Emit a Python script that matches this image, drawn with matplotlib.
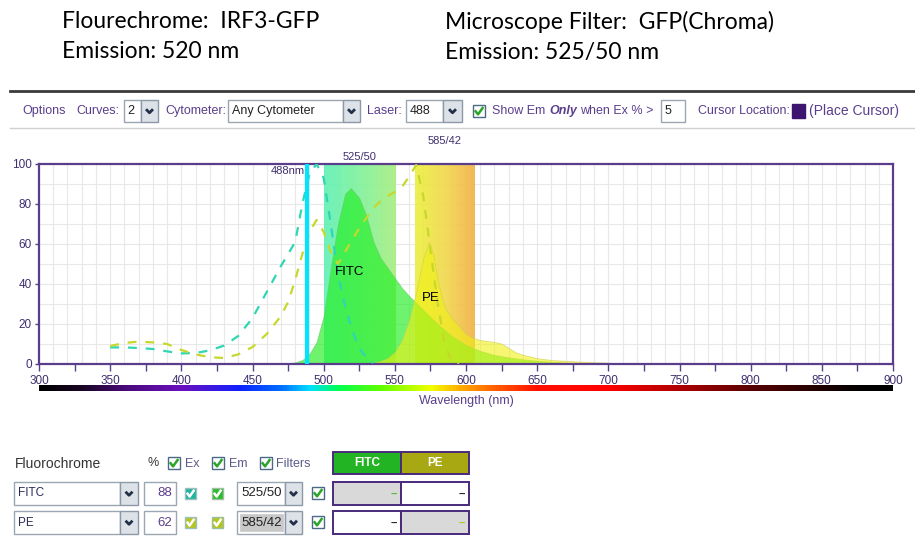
import numpy as np
import matplotlib
matplotlib.use("Agg")
import matplotlib.pyplot as plt
from matplotlib.patches import Rectangle
from matplotlib.colors import LinearSegmentedColormap

# spectra (wavelength in nm, value in % of max)
fitc_ex_nm = [350, 360, 370, 380, 390, 400, 410, 420, 430, 440, 450, 460, 470, 475, 480,
              485, 490, 495, 500, 505, 510, 515, 520, 525, 530, 535]
fitc_ex = [8.3, 8.3, 8.0, 7.5, 6.3, 5.3, 5.5, 6.8, 9.2, 14, 23, 36, 49, 55, 61,
           80, 95, 100, 93, 70, 45, 29, 17, 8, 3, 0.5]

pe_ex_nm = [350, 360, 370, 380, 390, 400, 410, 420, 430, 440, 450, 460, 470, 475, 480,
            485, 490, 495, 500, 505, 510, 515, 520, 525, 530, 535, 540, 545, 550, 555,
            560, 565, 570, 575, 580, 585, 590, 595]
pe_ex = [9, 10.5, 11.2, 10.8, 10, 7, 4.8, 3.4, 3, 4.8, 8.5, 15, 24, 31, 42,
         55, 66, 72, 66, 56, 50, 56, 62, 68, 73, 78, 81.5, 84, 86, 88.5,
         93.7, 99.5, 84, 57, 31, 10, 1.5, 0]

fitc_em_nm = [470, 480, 485, 490, 495, 500, 505, 510, 515, 519, 525, 530, 535, 540, 545,
              550, 555, 560, 565, 570, 575, 580, 590, 600, 610, 620, 630, 640, 650, 660,
              670, 680, 700, 720]
fitc_em = [0, 0.8, 2, 5, 11, 24, 48, 70, 85, 88, 83, 74, 61, 53, 48,
           43, 38, 34, 30.5, 27, 23.5, 20, 14, 9.5, 6.5, 4.5, 3.3, 2.3, 1.6, 1.1,
           0.7, 0.4, 0.1, 0]

pe_em_nm = [530, 540, 545, 550, 555, 560, 565, 570, 574, 577, 580, 583, 586, 590, 595,
            600, 605, 610, 620, 625, 630, 635, 640, 650, 660, 670, 680, 690, 700, 705]
pe_em = [0, 1.5, 3, 6, 12, 22, 36, 53, 61, 55, 42, 33, 27, 23, 19,
         15, 13, 12, 11, 10.2, 8, 5.8, 4.6, 2.9, 2, 1.6, 1.2, 0.9, 0.7, 0]

laser_nm = 488
filters = ["525/50", "585/42"]

fluor_names = ["FITC", "PE"]
fluor_pct = [88, 62]
fluor_filters = ["525/50", "585/42"]

curves = "2"
cytometer = "Any Cytometer"
laser_opt = "488"
em_threshold = "5"

PURPLE = "#5a3e8c"
DARK_PURPLE = "#3f2f6f"
UI_FONT = "Liberation Sans"

fig = plt.figure(figsize=(9.15, 5.4), dpi=100)

# full-figure layer in pixel coordinates for the surrounding panel
ui = fig.add_axes([0, 0, 1, 1], zorder=0)
ui.set_xlim(0, 915)
ui.set_ylim(540, 0)
ui.axis("off")


def box(x0, y0, x1, y1, fc="white", ec="#9aa6b2", lw=1.0, z=1):
    ui.add_patch(Rectangle((x0, y0), x1 - x0, y1 - y0, fc=fc, ec=ec, lw=lw, zorder=z))


def arrow_btn(x0, y0, x1, y1):
    box(x0, y0, x1, y1, fc="#dde2e8", ec="#8d99a6")
    cx, cy = (x0 + x1) / 2, (y0 + y1) / 2
    ui.plot([cx - 3.5, cx, cx + 3.5], [cy - 1.8, cy + 1.8, cy - 1.8],
            color="#22304a", lw=2.0, solid_capstyle="butt", zorder=3)


def checkbox(x0, y0, s=12, fill="white", ec="#4a6a88", tick="#2aa52a"):
    box(x0, y0, x0 + s, y0 + s, fc=fill, ec=ec, lw=1.0, z=2)
    ui.plot([x0 + 2.6, x0 + s * 0.42, x0 + s - 2.4],
            [y0 + s * 0.52, y0 + s * 0.78, y0 + s * 0.25],
            color=tick, lw=1.8, zorder=3)


def label(x, y, s, size=9, color=PURPLE, ha="left", **kw):
    ui.text(x, y, s, fontsize=size, color=color, ha=ha, va="center",
            family=UI_FONT, zorder=4, **kw)


# heading lines
title_kw = dict(fontsize=16.5, family="Lato", color="black", va="center", zorder=4)
ui.text(62, 22, "Flourechrome:  IRF3-GFP", **title_kw)
ui.text(62, 52, "Emission: 520 nm", **title_kw)
ui.text(445, 22, "Microscope Filter:  GFP(Chroma)", **title_kw)
ui.text(445, 52, "Emission: 525/50 nm", **title_kw)

# options toolbar
ui.plot([10, 915], [91, 91], color="#3a3a3a", lw=2, zorder=2)
ui.plot([10, 915], [128, 128], color="#d0d0d0", lw=1, zorder=2)
label(22, 111, "Options")
label(76, 111, "Curves:")
box(124, 100, 141, 122)
label(127, 111, curves, color="#222222")
arrow_btn(141, 100, 158, 122)
label(165, 111, "Cytometer:")
box(228, 100, 343, 122)
label(232, 111, cytometer, color="#222222")
arrow_btn(343, 100, 360, 122)
label(367, 111, "Laser:")
box(406, 100, 443, 122)
label(410, 111, laser_opt, color="#222222")
arrow_btn(443, 100, 462, 122)
checkbox(473, 105)
label(492, 111, "Show Em")
label(549, 111, "Only", fontweight="bold", fontstyle="italic")
label(580, 111, "when Ex % >")
box(661, 100, 685, 122)
label(665, 111, em_threshold, color="#222222")
label(698, 111, "Cursor Location:")
ui.add_patch(Rectangle((792, 104), 13, 14, fc="#3d1470", ec="#3d1470", zorder=3))
label(809, 111, "(Place Cursor)", size=10)

# chart
ax = fig.add_axes([39 / 915, (540 - 364) / 540, 854 / 915, 200 / 540], zorder=2)
ax.set_facecolor("white")

band_maps = [
    LinearSegmentedColormap.from_list("b1", ["#5ef0b4", "#7ef29a", "#a6ee7e"]),
    LinearSegmentedColormap.from_list("b2", ["#ecef3c", "#f1d84a", "#f2b044"]),
]
grad = np.linspace(0, 1, 64).reshape(1, -1)
for name, cmap in zip(filters, band_maps):
    center, width = (float(v) for v in name.split("/"))
    lo, hi = center - width / 2, center + width / 2
    ax.imshow(grad, extent=[lo, hi, 0, 100], aspect="auto", cmap=cmap,
              alpha=0.9, zorder=1, interpolation="bilinear")
    top = 103.5 if name == filters[0] else 111.5
    ax.text(center, top, name, ha="center", va="center", fontsize=8,
            color=DARK_PURPLE, family=UI_FONT, clip_on=False)

ax.fill_between(fitc_em_nm, fitc_em, color="#22ee22", alpha=0.65, lw=0.6,
                edgecolor="#66cc66", zorder=2)
ax.fill_between(pe_em_nm, pe_em, color="#f0f014", alpha=0.6, lw=0.6,
                edgecolor="#cccc55", zorder=2)
ax.plot(fitc_ex_nm, fitc_ex, color="#2ed6b2", lw=1.6, dashes=(4, 4), zorder=3)
ax.plot(pe_ex_nm, pe_ex, color="#c6d82c", lw=1.6, dashes=(4, 4), zorder=3)
ax.axvline(laser_nm, color="#00e4ff", lw=3, zorder=4)
ax.text(laser_nm - 1.5, 96.5, f"{laser_nm}nm", ha="right", va="center", fontsize=8,
        color=DARK_PURPLE, family=UI_FONT, zorder=5)
ax.text(518, 46, "FITC", ha="center", va="center", fontsize=9.5, color="black",
        family=UI_FONT, zorder=5)
ax.text(575, 33, "PE", ha="center", va="center", fontsize=9.5, color="black",
        family=UI_FONT, zorder=5)

ax.set_xlim(300, 900)
ax.set_ylim(0, 100)
ax.set_xticks(np.arange(300, 901, 50))
ax.set_xticks(np.arange(300, 901, 25), minor=True)
ax.set_yticks(np.arange(0, 101, 20))
for v in np.arange(300, 901, 10):
    ax.axvline(v, color="#e8e8e8", lw=0.8, zorder=0)
for v in np.arange(0, 101, 10):
    ax.axhline(v, color="#e8e8e8", lw=0.8, zorder=0)
ax.tick_params(axis="x", which="both", direction="out", length=5, width=1,
               color=PURPLE, labelcolor=DARK_PURPLE, labelsize=8.5, pad=3)
ax.tick_params(axis="y", direction="out", length=3, width=1,
               color=PURPLE, labelcolor=DARK_PURPLE, labelsize=8.5, pad=2)
for lab in ax.get_xticklabels() + ax.get_yticklabels():
    lab.set_family(UI_FONT)
for sp in ax.spines.values():
    sp.set_color(PURPLE)
    sp.set_linewidth(1.6)

# wavelength colour strip
strip_nodes = [(300, "#000000"), (330, "#1a0626"), (360, "#4a0a7a"), (400, "#6a10c0"),
               (440, "#1020ff"), (470, "#0070ff"), (490, "#00e0ff"), (510, "#00ff50"),
               (540, "#60ff00"), (575, "#f0ff00"), (595, "#ffb000"), (620, "#ff6000"),
               (650, "#ff1000"), (700, "#ff0000"), (750, "#b00000"), (800, "#5a0000"),
               (850, "#200000"), (880, "#000000"), (900, "#000000")]
strip_cmap = LinearSegmentedColormap.from_list(
    "strip", [((n - 300) / 600, c) for n, c in strip_nodes])
sax = fig.add_axes([39 / 915, (540 - 391) / 540, 854 / 915, 6 / 540], zorder=2)
sax.imshow(np.linspace(0, 1, 600).reshape(1, -1), aspect="auto", cmap=strip_cmap)
sax.axis("off")
label(466, 401, "Wavelength (nm)", ha="center")

# fluorochrome table
label(15, 464, "Fluorochrome", size=10, color="#333333")
label(147, 463, "%", color="#333333")
checkbox(168, 457)
label(185, 464, "Ex", color="#5a5a8a")
checkbox(212, 457)
label(229, 464, "Em", color="#5a5a8a")
checkbox(260, 457)
label(276, 464, "Filters", color="#5a5a8a")

head_cols = ["#22b422", "#a8a812"]
for i, (name, col) in enumerate(zip(fluor_names, head_cols)):
    x0 = 333 + i * 68
    box(x0, 452, x0 + 68, 474, fc=col, ec="#4a2a7a", lw=1.4)
    ui.text(x0 + 34, 463, name, ha="center", va="center", fontsize=8.5, color="white",
            fontweight="bold", family=UI_FONT, zorder=4)

ex_cols = ["#20b4a0", "#b8c41e"]
em_cols = ["#2cbb2c", "#b8c41e"]
dash_cols = ["#55bb33", "#b8c41e"]
for i, (name, pct, filt) in enumerate(zip(fluor_names, fluor_pct, fluor_filters)):
    y0 = 482 + i * 29
    y1 = y0 + 23
    yc = (y0 + y1) / 2
    box(14, y0, 120, y1)
    label(18, yc, name, color="#2a2a5a", size=8.5)
    arrow_btn(120, y0, 138, y1)
    box(144, y0, 176, y1)
    label(172, yc, str(pct), ha="right", color="#5a3e8c", size=9.5)
    checkbox(185, y0 + 6, 11, fill=ex_cols[i], ec="#9ac0c0", tick="white")
    checkbox(212, y0 + 6, 11, fill=em_cols[i], ec="#9ac0a0", tick="white")
    box(237, y0, 285, y1)
    if i == 1:
        box(240, y0 + 3, 283, y1 - 3, fc="#c8c8c8", ec="#c8c8c8", lw=0.5, z=2)
    label(241, yc, filt, color="#222222", size=9.5)
    arrow_btn(285, y0, 302, y1)
    checkbox(312, y0 + 5)
    for j in range(2):
        x0 = 333 + j * 68
        fc = "#d9d9d9" if i == j else "white"
        box(x0, y0, x0 + 68, y1, fc=fc, ec="#4a2a7a", lw=1.4)
        ui.text(x0 + 65, yc, "--", ha="right", va="center", fontsize=8,
                fontweight="bold", color=dash_cols[j] if i == j else "#222222",
                family=UI_FONT, zorder=4)

fig.savefig("out.png", dpi=100)
